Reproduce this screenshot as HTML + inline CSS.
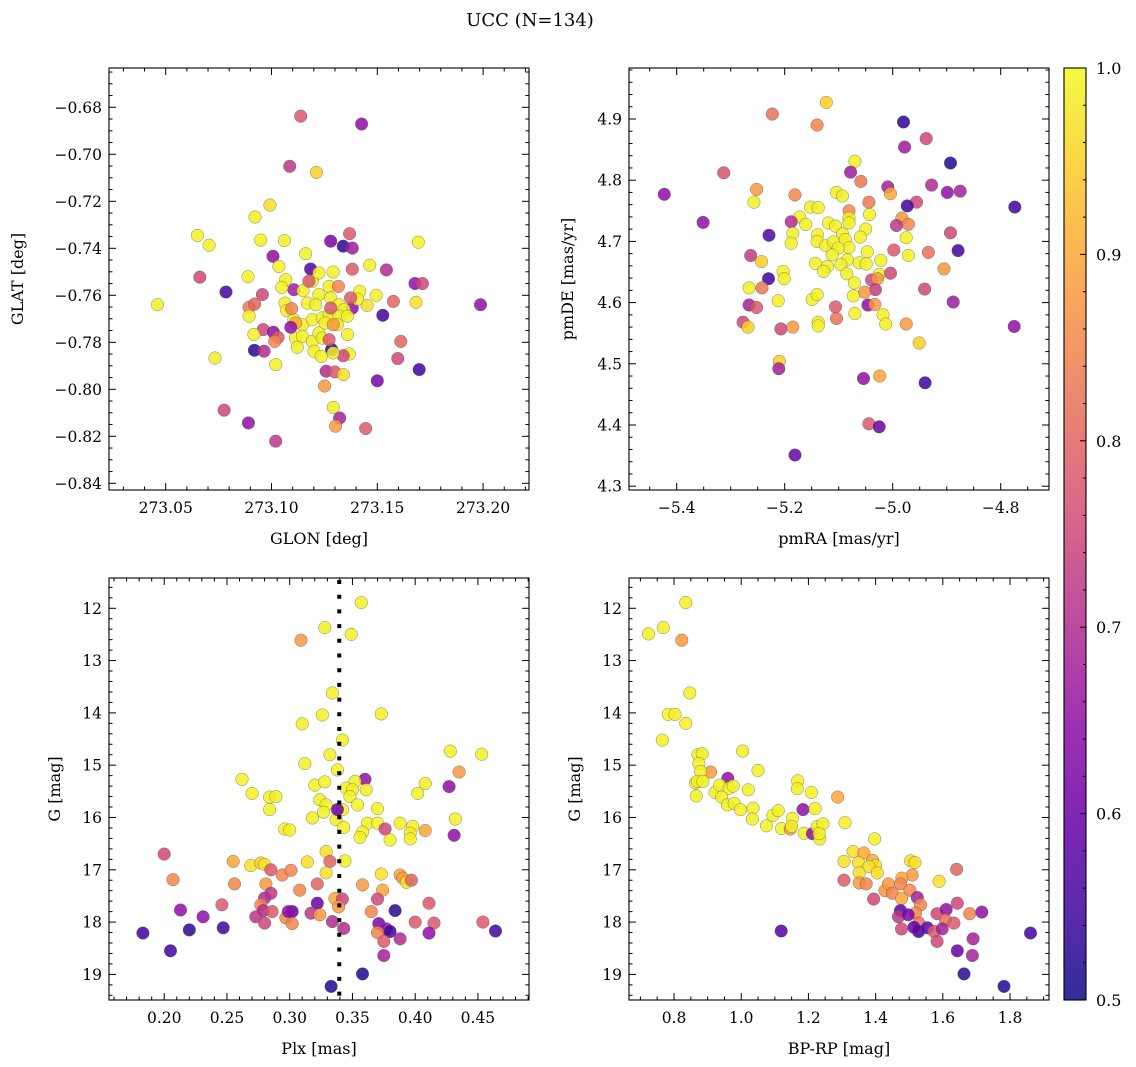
<!DOCTYPE html>
<html><head><meta charset="utf-8">
<style>
html,body{margin:0;padding:0;background:#fff;}
svg{display:block;font-family:"DejaVu Serif","Liberation Serif",serif;}
</style></head>
<body>
<svg id="fig" width="1136" height="1067" viewBox="0 0 1136 1067" xmlns="http://www.w3.org/2000/svg">
<text x="530" y="26" font-size="18" text-anchor="middle">UCC (N=134)</text>
</svg>
<script>
// ---- Panel 1: GLON vs GLAT ----
const glonVals = [273.1138,273.1426,273.1086,273.1212,273.0993,273.0922,273.0650,273.0705,273.0949,273.1061,273.1369,273.1280,273.1339,273.1382,273.1694,273.1161,273.1007,273.1035,273.1185,273.1382,273.1464,273.1543,273.0889,273.0661,273.1678,273.1713,273.0785,273.0957,273.1106,273.0461,273.0894,273.0920,273.0894,273.1988,273.1576,273.1683,273.1452,273.1495,273.1526,273.1382,273.0961,273.1009,273.1031,273.1015,273.0917,273.0919,273.0965,273.0733,273.1020,273.1359,273.1367,273.1339,273.1284,273.1611,273.1597,273.1698,273.1500,273.1258,273.1299,273.1340,273.1251,273.1292,273.1322,273.1303,273.1445,273.0776,273.0891,273.1020,
273.1067,273.1048,273.1149,273.1193,273.1224,273.1291,273.1272,273.1224,273.1169,273.1209,273.1280,273.1319,273.1343,273.1064,273.1072,273.1106,273.1146,273.1193,273.1240,273.1272,273.1319,273.1359,273.1417,273.1406,273.1114,273.1146,273.1193,273.1224,273.1240,273.1201,273.1235,273.1122,273.1291,273.1311,273.1253,
273.1177,273.1316,273.1280,273.1374,273.1095,273.1114,273.1091,273.1292,273.1272];
const glatVals = [-0.6838,-0.6871,-0.7051,-0.7077,-0.7216,-0.7267,-0.7345,-0.7387,-0.7365,-0.7367,-0.7338,-0.7370,-0.7391,-0.7399,-0.7374,-0.7423,-0.7434,-0.7477,-0.7488,-0.7489,-0.7472,-0.7492,-0.7521,-0.7523,-0.7550,-0.7550,-0.7586,-0.7597,-0.7576,-0.7640,-0.7651,-0.7637,-0.7689,-0.7640,-0.7626,-0.7630,-0.7643,-0.7600,-0.7685,-0.7654,-0.7746,-0.7757,-0.7779,-0.7796,-0.7767,-0.7834,-0.7838,-0.7867,-0.7895,-0.7767,-0.7850,-0.7857,-0.7831,-0.7796,-0.7869,-0.7916,-0.7964,-0.7923,-0.7926,-0.7938,-0.7986,-0.8077,-0.8122,-0.8157,-0.8167,-0.8089,-0.8143,-0.8221,
-0.7533,-0.7566,-0.7580,-0.7540,-0.7505,-0.7501,-0.7562,-0.7597,-0.7633,-0.7640,-0.7611,-0.7640,-0.7661,-0.7633,-0.7665,-0.7704,-0.7725,-0.7704,-0.7696,-0.7682,-0.7689,-0.7689,-0.7583,-0.7616,-0.7782,-0.7774,-0.7796,-0.7760,-0.7782,-0.7838,-0.7860,-0.7821,-0.7845,-0.7725,-0.7718,
-0.7540,-0.7562,-0.7654,-0.7611,-0.7657,-0.7718,-0.7736,-0.7725,-0.7789];
const probTL = [0.78,0.65,0.72,0.95,0.97,0.99,0.99,0.99,0.99,0.99,0.78,0.62,0.53,0.67,0.99,0.99,0.65,0.99,0.57,0.78,0.99,0.70,0.99,0.75,0.65,0.75,0.55,0.75,0.67,0.99,0.83,0.80,0.99,0.65,0.80,0.97,0.97,0.99,0.55,0.65,0.75,0.65,0.78,0.85,0.99,0.53,0.70,0.99,0.99,0.99,0.99,0.75,0.52,0.80,0.75,0.55,0.62,0.70,0.78,0.97,0.88,0.99,0.68,0.88,0.78,0.75,0.65,0.72,
0.99,0.99,0.99,0.99,0.99,0.99,0.99,0.99,0.99,0.99,0.99,0.99,0.99,0.99,0.99,0.99,0.99,0.99,0.99,0.99,0.99,0.99,0.99,0.99,0.99,0.99,0.99,0.99,0.99,0.99,0.99,0.99,0.99,0.99,0.99,
0.78,0.85,0.78,0.78,0.85,0.90,0.65,0.88,0.78];

// ---- Panel 2: pmRA vs pmDE ----
const pmraVals = [-5.123,-5.223,-5.140,-4.980,-4.938,-4.978,-4.893,-5.070,-5.313,-5.078,-5.059,-4.928,-5.009,-5.004,-4.899,-4.875,-5.423,-5.252,-5.181,-5.257,-5.104,-5.093,-5.044,-4.956,-4.973,-4.774,-5.152,-5.138,-5.081,-5.043,-5.081,-5.172,-4.983,-4.971,-4.993,-5.351,-5.188,-5.161,-5.119,-5.106,-5.081,-5.050,-5.229,-5.185,-5.188,-5.139,-5.093,-5.060,-5.140,-5.124,-5.110,-5.088,-5.081,-4.975,-4.893,-5.101,-4.998,-4.934,-4.879,-5.047,-4.971,-5.263,-5.243,-5.112,-5.143,-5.084,-5.062,-5.049,-5.022,-5.096,-5.121,-5.128,-4.905,-5.203,-5.201,-5.085,-5.025,-5.004,-5.039,-5.028,-5.230,-5.266,-5.242,-5.071,-5.032,-4.941,-5.052,-5.073,-5.212,-5.266,-5.252,-5.149,-5.140,-5.106,-5.046,-5.033,-4.888,-5.070,-5.018,-5.013,-5.104,-5.138,-5.138,-4.975,-4.775,-5.277,-5.268,-5.207,-5.185,-4.951,-5.210,-5.211,-5.054,-5.024,-4.940,-5.044,-5.025,-5.181];
const pmdeVals = [4.927,4.908,4.890,4.895,4.868,4.854,4.828,4.831,4.812,4.813,4.798,4.792,4.789,4.778,4.780,4.782,4.777,4.785,4.776,4.764,4.780,4.774,4.764,4.764,4.758,4.756,4.756,4.755,4.750,4.744,4.738,4.740,4.738,4.728,4.726,4.731,4.732,4.728,4.730,4.725,4.730,4.720,4.710,4.713,4.697,4.711,4.712,4.707,4.700,4.693,4.699,4.703,4.690,4.706,4.714,4.689,4.686,4.682,4.685,4.683,4.677,4.677,4.667,4.678,4.664,4.670,4.665,4.663,4.669,4.662,4.659,4.651,4.655,4.651,4.639,4.647,4.646,4.648,4.637,4.639,4.639,4.624,4.624,4.632,4.621,4.622,4.617,4.611,4.603,4.596,4.592,4.605,4.613,4.593,4.596,4.597,4.601,4.582,4.580,4.565,4.574,4.568,4.562,4.565,4.561,4.568,4.560,4.557,4.560,4.534,4.504,4.492,4.476,4.480,4.469,4.402,4.397,4.351];
const probTR = [0.95,0.82,0.85,0.53,0.75,0.67,0.52,0.99,0.77,0.67,0.83,0.70,0.68,0.90,0.65,0.68,0.65,0.88,0.85,0.99,0.99,0.99,0.83,0.75,0.55,0.55,0.99,0.99,0.85,0.99,0.99,0.99,0.88,0.85,0.72,0.65,0.70,0.99,0.99,0.99,0.99,0.99,0.57,0.99,0.99,0.99,0.99,0.99,0.99,0.99,0.99,0.99,0.99,0.99,0.75,0.99,0.78,0.82,0.55,0.99,0.99,0.73,0.95,0.99,0.99,0.99,0.99,0.99,0.99,0.99,0.99,0.99,0.88,0.99,0.99,0.99,0.99,0.75,0.75,0.88,0.55,0.99,0.83,0.99,0.73,0.75,0.88,0.99,0.99,0.68,0.78,0.99,0.99,0.78,0.65,0.88,0.67,0.99,0.99,0.99,0.82,0.99,0.99,0.88,0.65,0.75,0.95,0.75,0.88,0.95,0.95,0.68,0.65,0.90,0.55,0.78,0.60,0.60];

// ---- Panel 3: Plx vs G ----
const plxVals = [0.357,0.328,0.349,0.309,0.334,0.373,0.326,0.310,0.342,0.428,0.453,0.332,0.312,0.338,0.435,0.360,0.262,0.320,0.328,0.352,0.345,0.350,0.408,0.427,0.361,0.270,0.284,0.289,0.402,0.324,0.329,0.348,0.354,0.284,0.327,0.342,0.370,0.432,0.318,0.337,0.343,0.362,0.370,0.376,0.358,0.356,0.380,0.388,0.398,0.396,0.396,0.408,0.431,0.296,0.300,0.200,0.329,0.332,0.344,0.255,0.269,0.277,0.280,0.285,0.294,0.301,0.314,0.329,0.373,0.388,0.390,0.393,0.397,0.207,0.256,0.281,0.308,0.322,0.358,0.374,0.285,0.280,0.277,0.336,0.342,0.339,0.322,0.370,0.411,0.246,0.213,0.231,0.279,0.286,0.273,0.280,0.297,0.302,0.299,0.302,0.317,0.324,0.334,0.343,0.365,0.384,0.371,0.377,0.380,0.370,0.375,0.388,0.375,0.400,0.415,0.411,0.454,0.464,0.183,0.205,0.220,0.247,0.358,0.333,0.338];
const gPlxVals = [11.89,12.37,12.50,12.61,13.62,14.02,14.04,14.21,14.52,14.73,14.79,14.80,14.97,15.09,15.13,15.27,15.27,15.38,15.32,15.31,15.44,15.47,15.35,15.41,15.47,15.54,15.61,15.60,15.54,15.66,15.76,15.60,15.76,15.85,15.90,15.85,15.83,16.03,16.01,16.04,16.19,16.11,16.11,16.22,16.28,16.38,16.43,16.11,16.17,16.30,16.41,16.25,16.34,16.22,16.24,16.70,16.65,16.84,16.83,16.84,16.92,16.87,16.90,17.00,17.10,17.01,16.85,17.06,17.08,17.10,17.16,17.24,17.20,17.19,17.27,17.27,17.39,17.27,17.29,17.39,17.45,17.54,17.67,17.55,17.56,17.71,17.64,17.56,17.64,17.67,17.77,17.90,17.78,17.80,17.90,18.02,17.92,17.80,17.80,18.03,17.83,17.86,17.99,18.12,17.80,17.78,18.03,18.13,18.18,18.20,18.37,18.32,18.64,18.00,18.02,18.21,18.00,18.17,18.21,18.55,18.15,18.11,18.99,19.23,15.85];
const probBL = [0.99,0.99,0.99,0.88,0.99,0.99,0.99,0.99,0.99,0.99,0.99,0.99,0.99,0.99,0.88,0.65,0.99,0.99,0.99,0.99,0.99,0.99,0.99,0.65,0.99,0.99,0.99,0.99,0.99,0.99,0.99,0.99,0.99,0.99,0.99,0.99,0.99,0.99,0.99,0.99,0.99,0.99,0.99,0.75,0.99,0.99,0.99,0.99,0.99,0.99,0.99,0.90,0.65,0.99,0.99,0.75,0.97,0.80,0.99,0.90,0.97,0.95,0.97,0.78,0.85,0.85,0.97,0.97,0.97,0.90,0.88,0.97,0.80,0.85,0.85,0.88,0.85,0.80,0.88,0.90,0.72,0.70,0.85,0.90,0.75,0.88,0.60,0.75,0.78,0.78,0.65,0.65,0.70,0.78,0.72,0.75,0.85,0.60,0.65,0.85,0.72,0.88,0.70,0.70,0.85,0.53,0.62,0.65,0.55,0.85,0.78,0.70,0.68,0.78,0.78,0.65,0.78,0.55,0.55,0.55,0.53,0.55,0.52,0.52,0.60];

// ---- Panel 4: BP-RP vs G ----
const bprpVals = [0.724,0.768,0.835,0.823,0.847,0.783,0.803,0.835,0.765,1.004,0.871,0.884,0.874,0.909,0.960,1.050,0.879,0.864,0.869,0.886,0.866,0.922,0.936,0.964,0.976,0.942,0.959,0.979,0.998,1.021,1.035,1.033,1.075,1.094,1.110,1.120,1.152,1.146,1.150,1.168,1.167,1.209,1.184,1.220,1.187,1.212,1.226,1.243,1.234,1.232,1.287,1.309,1.397,1.333,1.365,1.306,1.349,1.391,1.400,1.380,1.351,1.405,1.306,1.351,1.372,1.428,1.438,1.450,1.394,1.504,1.517,1.509,1.478,1.474,1.502,1.477,1.589,1.641,1.643,1.524,1.534,1.519,1.529,1.474,1.468,1.497,1.477,1.528,1.554,1.574,1.583,1.583,1.610,1.608,1.598,1.633,1.680,1.716,1.690,1.688,1.643,1.663,1.782,1.861,1.119,1.514];
const gBprpVals = [12.49,12.37,11.89,12.61,13.62,14.03,14.03,14.20,14.52,14.73,14.80,14.78,14.97,15.13,15.25,15.10,15.12,15.34,15.31,15.31,15.59,15.52,15.38,15.44,15.40,15.61,15.76,15.73,15.85,15.47,15.82,16.03,16.16,15.96,15.87,16.21,16.02,16.22,16.17,15.30,15.45,15.52,15.85,15.83,16.30,16.31,16.17,16.12,16.41,16.31,15.61,16.10,16.41,16.65,16.68,16.84,16.86,16.82,16.92,16.94,17.06,17.06,17.20,17.25,17.27,17.40,17.27,17.45,17.56,16.83,16.86,17.10,17.16,17.27,17.39,17.55,17.22,16.99,17.64,17.53,17.67,17.83,18.02,17.78,17.90,17.86,18.13,18.18,18.11,18.18,18.37,17.84,17.76,17.96,18.13,18.02,17.84,17.81,18.32,18.64,18.55,18.99,19.23,18.21,18.17,18.10];
const probBR = [0.99,0.99,0.99,0.88,0.99,0.99,0.99,0.99,0.99,0.99,0.99,0.99,0.99,0.88,0.65,0.99,0.99,0.99,0.99,0.99,0.99,0.99,0.99,0.99,0.99,0.99,0.99,0.99,0.99,0.99,0.99,0.99,0.99,0.99,0.99,0.99,0.99,0.88,0.99,0.99,0.99,0.99,0.65,0.99,0.99,0.65,0.99,0.99,0.99,0.99,0.90,0.99,0.99,0.97,0.90,0.97,0.97,0.90,0.97,0.97,0.97,0.97,0.78,0.88,0.85,0.88,0.88,0.85,0.75,0.97,0.97,0.88,0.90,0.85,0.85,0.90,0.97,0.80,0.75,0.68,0.85,0.85,0.82,0.58,0.72,0.62,0.75,0.55,0.58,0.78,0.75,0.75,0.65,0.82,0.68,0.78,0.85,0.65,0.68,0.68,0.60,0.53,0.52,0.55,0.57,0.60];

// Colorbar ticks
const cbarTicks = [0.5,0.6,0.7,0.8,0.9,1.0];

const NS = "http://www.w3.org/2000/svg";
const svg = document.getElementById('fig');
function mk(tag, attrs, parent){
  const e = document.createElementNS(NS, tag);
  for (const k in attrs) e.setAttribute(k, attrs[k]);
  (parent||svg).appendChild(e);
  return e;
}
const plasma = [[13,8,135],[65,4,157],[106,0,168],[143,13,164],[177,42,144],[204,71,120],[225,100,98],[242,132,75],[252,166,54],[252,206,37],[240,249,33]];
function cmap(v){
  let t = (v-0.5)/0.5; t = Math.max(0,Math.min(1,t));
  const f = t*10, i = Math.min(9,Math.floor(f)), r = f-i;
  const a = plasma[i], b = plasma[i+1];
  return 'rgb('+[0,1,2].map(k=>Math.round(a[k]+(b[k]-a[k])*r)).join(',')+')';
}
function fmt(v,d){ return v.toFixed(d).replace('-','\u2212'); }

function panel(cfg){
  const {name,L,T,W,H,xmin,xmax,ymin,ymax,xMajor,xMinor,yMajor,yMinor,xd,yd,invertY,xlabel,ylabel,xs,ys,ps} = cfg;
  const g = mk('g',{});
  
  
  const sx = v => L + (v-xmin)/(xmax-xmin)*W;
  const sy = invertY ? (v => T + (v-ymin)/(ymax-ymin)*H) : (v => T + H - (v-ymin)/(ymax-ymin)*H);
  const pts = mk('g',{},g);
  
  
  for (let i=0;i<xs.length;i++){
    const c = mk('circle',{cx:sx(xs[i]).toFixed(1),cy:sy(ys[i]).toFixed(1),r:6.3,fill:cmap(ps[i]),'fill-opacity':0.85,stroke:'#555','stroke-width':0.5,'stroke-opacity':0.7},pts);
    
    
  }
  if (cfg.vline!==undefined){
    const vl = mk('line',{x1:sx(cfg.vline),x2:sx(cfg.vline),y1:T+2,y2:T+H,stroke:'#000','stroke-width':4,'stroke-dasharray':'4 10.7'},g);
    
    
  }
  const fr = mk('rect',{x:L,y:T,width:W,height:H,fill:'none',stroke:'#000','stroke-width':1.1},g);
  
  
  const eps=1e-9;
  for (let k=Math.ceil(xmin/xMinor-eps); k*xMinor<=xmax+eps; k++){
    const v=k*xMinor, x = sx(v);
    const isMaj = Math.abs(v/xMajor - Math.round(v/xMajor))<1e-6;
    const len = isMaj?7:3.5;
    mk('line',{x1:x,x2:x,y1:T+H,y2:T+H-len,stroke:'#000','stroke-width':1},g);
    mk('line',{x1:x,x2:x,y1:T,y2:T+len,stroke:'#000','stroke-width':1},g);
    if (isMaj){
      const t = mk('text',{x:x,y:T+H+23,'font-size':15.5,'text-anchor':'middle'},g);
      t.textContent = fmt(Math.round(v/xMajor)*xMajor,xd);
      
      
    }
  }
  for (let k=Math.ceil(ymin/yMinor-eps); k*yMinor<=ymax+eps; k++){
    const v=k*yMinor, y = sy(v);
    const isMaj = Math.abs(v/yMajor - Math.round(v/yMajor))<1e-6;
    const len = isMaj?7:3.5;
    mk('line',{x1:L,x2:L+len,y1:y,y2:y,stroke:'#000','stroke-width':1},g);
    mk('line',{x1:L+W,x2:L+W-len,y1:y,y2:y,stroke:'#000','stroke-width':1},g);
    if (isMaj){
      const t = mk('text',{x:L-7,y:y+5.5,'font-size':15.5,'text-anchor':'end'},g);
      t.textContent = fmt(Math.round(v/yMajor)*yMajor,yd);
      
      
    }
  }
  const xl = mk('text',{x:L+W/2,y:T+H+54,'font-size':16,'text-anchor':'middle'},g);
  xl.textContent = xlabel;
  
  
  const ylx = cfg.ylx;
  const yl = mk('text',{x:ylx,y:T+H/2,'font-size':16,'text-anchor':'middle',transform:'rotate(-90 '+ylx+' '+(T+H/2)+')'},g);
  yl.textContent = ylabel;
  
  
}

panel({name:'glon-glat-panel',L:109,T:68,W:420,H:422,xmin:273.0232,xmax:273.2217,ymin:-0.84285,ymax:-0.66328,xMajor:0.05,xMinor:0.01,yMajor:0.02,yMinor:0.005,xd:2,yd:2,invertY:false,xlabel:'GLON [deg]',ylabel:'GLAT [deg]',ylx:23,xs:glonVals,ys:glatVals,ps:probTL});
panel({name:'pm-panel',L:629,T:68,W:420,H:422,xmin:-5.4883,xmax:-4.7106,ymin:4.2938,ymax:4.9833,xMajor:0.2,xMinor:0.05,yMajor:0.1,yMinor:0.02,xd:1,yd:1,invertY:false,xlabel:'pmRA [mas/yr]',ylabel:'pmDE [mas/yr]',ylx:573,xs:pmraVals,ys:pmdeVals,ps:probTR});
panel({name:'plx-g-panel',L:109,T:578,W:420,H:422,xmin:0.156,xmax:0.4907,ymin:11.421,ymax:19.49,xMajor:0.05,xMinor:0.01,yMajor:1,yMinor:0.2,xd:2,yd:0,invertY:true,xlabel:'Plx [mas]',ylabel:'G [mag]',ylx:60,xs:plxVals,ys:gPlxVals,ps:probBL,vline:0.3395});
panel({name:'cmd-panel',L:629,T:578,W:420,H:422,xmin:0.666,xmax:1.916,ymin:11.421,ymax:19.49,xMajor:0.2,xMinor:0.05,yMajor:1,yMinor:0.2,xd:1,yd:0,invertY:true,xlabel:'BP-RP [mag]',ylabel:'G [mag]',ylx:580,xs:bprpVals,ys:gBprpVals,ps:probBR});

(function(){
  const L=1064,T=68,W=22,H=932;
  const cb = mk('g',{});
  
  
  const defs = mk('defs',{},cb);
  const lg = mk('linearGradient',{id:'cbg',x1:0,y1:1,x2:0,y2:0},defs);
  for (let i=0;i<=10;i++){
    mk('stop',{offset:(i/10),'stop-color':cmap(0.5+i*0.05),'stop-opacity':0.85},lg);
  }
  mk('rect',{x:L,y:T,width:W,height:H,fill:'url(#cbg)',stroke:'#000','stroke-width':1.1},cb);
  const sy = v => T+H-(v-0.5)/0.5*H;
  for (let k=0;k<=25;k++){
    const v=0.5+k*0.02, y=sy(v);
    const maj = k%5===0;
    mk('line',{x1:L+W,x2:L+W-(maj?6:3),y1:y,y2:y,stroke:'#000','stroke-width':1},cb);
  }
  cbarTicks.forEach(v=>{
    const t = mk('text',{x:L+W+10,y:sy(v)+6,'font-size':16},cb);
    t.textContent = v.toFixed(1);
    
    
  });
})();
</script>
</body></html>
